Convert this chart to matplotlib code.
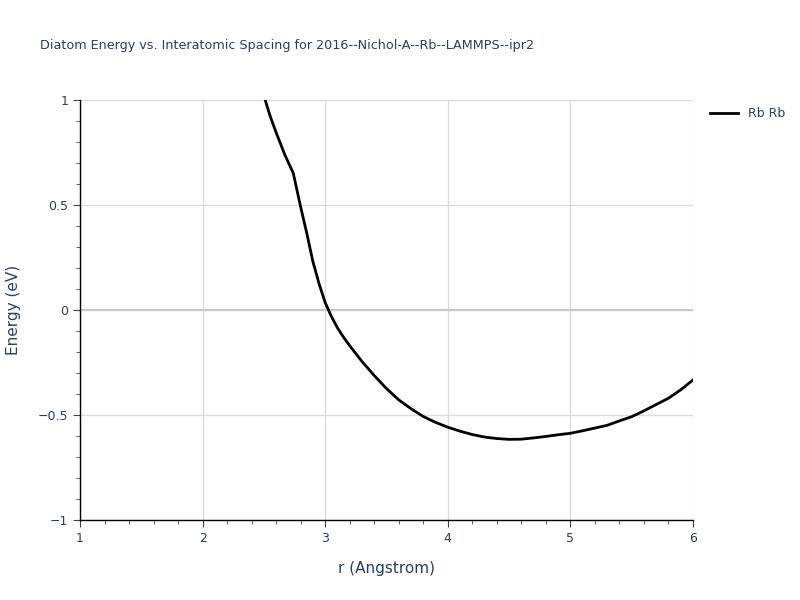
import numpy as np
import matplotlib
matplotlib.use("Agg")
import matplotlib.pyplot as plt
from matplotlib.ticker import MultipleLocator

# data
r = [2.4, 2.5, 2.55, 2.6, 2.67, 2.74, 2.8, 2.85, 2.9, 2.95, 3.0, 3.05,
     3.1, 3.15, 3.2, 3.3, 3.4, 3.5, 3.6, 3.7, 3.8, 3.9, 4.0, 4.1, 4.2, 4.3,
     4.4, 4.5, 4.6, 4.7, 4.8, 4.9, 5.0, 5.1, 5.2, 5.3, 5.4, 5.5, 5.6, 5.7,
     5.8, 5.9, 6.0]
energy = [1.3, 1.02, 0.925, 0.845, 0.74, 0.651, 0.49, 0.365, 0.23, 0.125,
          0.035, -0.03, -0.085, -0.13, -0.17, -0.245, -0.312, -0.374, -0.428,
          -0.47, -0.507, -0.535, -0.558, -0.577, -0.593, -0.605, -0.612,
          -0.616, -0.615, -0.609, -0.602, -0.594, -0.587, -0.575, -0.562,
          -0.549, -0.528, -0.508, -0.48, -0.45, -0.42, -0.38, -0.333]
series_name = "Rb Rb"
title = "Diatom Energy vs. Interatomic Spacing for 2016--Nichol-A--Rb--LAMMPS--ipr2"

txt = "#2a3f5f"
plt.rcParams['font.family'] = ['DejaVu Sans']

fig = plt.figure(figsize=(8, 6), dpi=100)
ax = fig.add_axes([0.1, 0.1333, 0.76625, 0.7])

ax.plot(r, energy, color="black", lw=2, label=series_name, clip_on=True)
ax.set_xlim(1, 6)
ax.set_ylim(-1, 1)

ax.xaxis.set_major_locator(MultipleLocator(1))
ax.xaxis.set_minor_locator(MultipleLocator(0.2))
ax.yaxis.set_minor_locator(MultipleLocator(0.1))
ax.set_yticks([-1, -0.5, 0, 0.5, 1])
ax.set_yticklabels(["\u22121", "\u22120.5", "0", "0.5", "1"])

ax.grid(True, which="major", color="#dcdcdc", lw=1)
ax.axhline(0, color="#c8c8c8", lw=1.5, zorder=1)
ax.set_axisbelow(True)

for s in ["top", "right"]:
    ax.spines[s].set_visible(False)
for s in ["left", "bottom"]:
    ax.spines[s].set_color("black")
    ax.spines[s].set_linewidth(1)

ax.tick_params(which="major", direction="out", length=5, color="#444444",
               labelcolor=txt, labelsize=9)
ax.tick_params(which="minor", direction="out", length=3, color="#444444")

ax.set_xlabel("r (Angstrom)", color=txt, fontsize=11, labelpad=12)
ax.set_ylabel("Energy (eV)", color=txt, fontsize=11, labelpad=12)

fig.text(0.05, 0.925, title, color=txt, fontsize=9.2, va="center", ha="left")

leg = ax.legend(loc="upper left", bbox_to_anchor=(1.01, 1.01), frameon=False,
                fontsize=9, handlelength=2.2, labelcolor=txt)

fig.savefig("out.png", dpi=100)
